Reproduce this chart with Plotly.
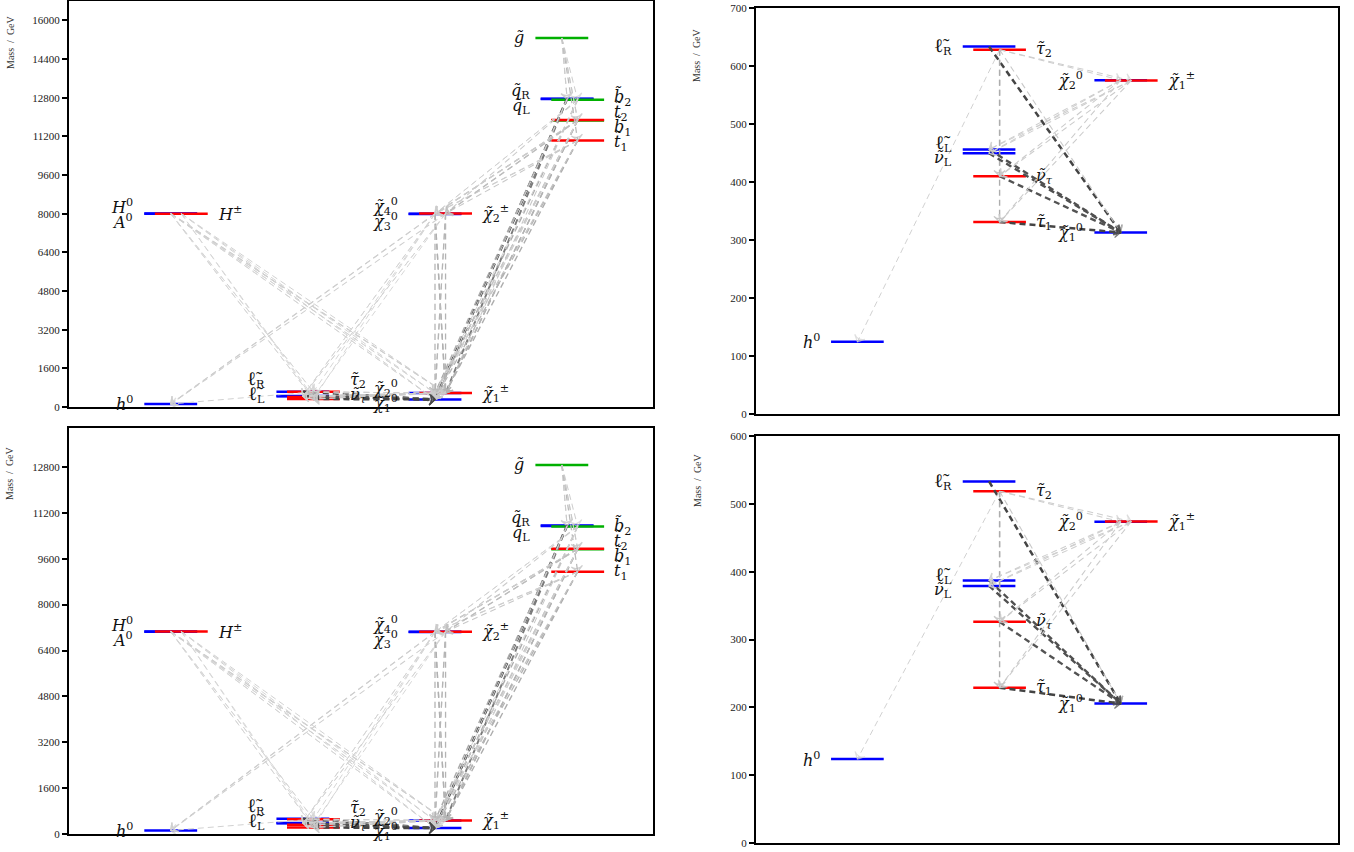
import plotly.graph_objects as go

W, H = 1354, 852

# ---------------- data ----------------
KEYS = ["h0", "H0", "A0", "Hpm", "lR", "lL", "snuL", "tau2", "snutau", "tau1",
        "N1", "N2", "N3", "N4", "C1", "C2", "gl", "qR", "qL", "b1", "b2", "t1", "t2"]
MASS_TOP = [124.4, 8005, 7995, 8000, 633.5, 456, 449.5, 628, 410, 331,
            313, 575.5, 7990, 8000, 575, 8002, 15270, 12760, 12740, 11860, 12715, 11024, 11876]
MASS_BOTTOM = [123.7, 7065, 7055, 7060, 533, 387, 379, 518.6, 326, 229,
               205.5, 473.5, 7045, 7052, 474, 7055, 12870, 10762, 10745, 9935, 10727, 9148, 9948]
LIGHT_KEYS = ["h0", "lR", "lL", "snuL", "tau2", "snutau", "tau1", "N1", "N2", "C1"]

# (parent, daughter, branching ratio)
DECAYS = [
    ("gl", "qR", 0.10), ("gl", "qL", 0.10), ("gl", "b1", 0.08), ("gl", "b2", 0.08),
    ("gl", "t1", 0.22), ("gl", "t2", 0.12),
    ("qR", "N1", 0.98),
    ("qL", "C1", 0.64), ("qL", "N2", 0.32), ("qL", "N1", 0.02),
    ("b1", "C1", 0.35), ("b1", "N2", 0.18), ("b1", "N1", 0.10), ("b1", "N3", 0.08),
    ("b1", "N4", 0.08), ("b1", "C2", 0.15),
    ("b2", "N1", 0.30), ("b2", "C1", 0.12), ("b2", "N2", 0.06), ("b2", "N3", 0.05),
    ("b2", "N4", 0.05), ("b2", "C2", 0.10),
    ("t1", "N1", 0.25), ("t1", "C1", 0.30), ("t1", "N2", 0.15), ("t1", "N3", 0.08),
    ("t1", "N4", 0.08), ("t1", "C2", 0.12),
    ("t2", "C1", 0.25), ("t2", "N2", 0.12), ("t2", "N1", 0.06), ("t2", "N3", 0.10),
    ("t2", "N4", 0.10), ("t2", "C2", 0.20),
    ("H0", "tau1", 0.03), ("H0", "tau2", 0.03), ("H0", "N1", 0.04), ("H0", "N2", 0.04), ("H0", "C1", 0.08),
    ("A0", "tau1", 0.03), ("A0", "tau2", 0.03), ("A0", "N1", 0.04), ("A0", "N2", 0.04), ("A0", "C1", 0.08),
    ("Hpm", "snutau", 0.03), ("Hpm", "tau1", 0.03), ("Hpm", "C1", 0.06), ("Hpm", "N1", 0.06),
    ("Hpm", "N2", 0.04),
    ("N3", "h0", 0.08), ("N3", "N1", 0.10), ("N3", "N2", 0.10), ("N3", "C1", 0.28),
    ("N3", "lL", 0.04), ("N3", "tau2", 0.04),
    ("N4", "h0", 0.08), ("N4", "N1", 0.10), ("N4", "N2", 0.10), ("N4", "C1", 0.28),
    ("N4", "snuL", 0.04), ("N4", "tau1", 0.04),
    ("C2", "h0", 0.08), ("C2", "C1", 0.25), ("C2", "N1", 0.10), ("C2", "N2", 0.25),
    ("C2", "snuL", 0.04), ("C2", "lL", 0.04), ("C2", "snutau", 0.04),
    ("lR", "N1", 1.0),
    ("tau2", "N1", 0.12), ("tau2", "N2", 0.08), ("tau2", "C1", 0.08),
    ("tau2", "snutau", 0.25), ("tau2", "tau1", 0.30), ("tau2", "h0", 0.06),
    ("lL", "N1", 0.92), ("snuL", "N1", 0.92),
    ("snutau", "N1", 0.90),
    ("tau1", "N1", 1.0),
    ("N2", "lL", 0.08), ("N2", "snuL", 0.08), ("N2", "snutau", 0.10), ("N2", "tau1", 0.10),
    ("C1", "snuL", 0.08), ("C1", "lL", 0.08), ("C1", "snutau", 0.10), ("C1", "tau1", 0.10),
]

Y_TICKS_TL = list(range(0, 16001, 1600))
Y_TICKS_BL = list(range(0, 12801, 1600))
Y_TICKS_TR = list(range(0, 701, 100))
Y_TICKS_BR = list(range(0, 601, 100))

# ---------------- style ----------------
BLUE, RED, GREEN = "#0000ff", "#ff0000", "#00b000"
ELL = "<span style=\"font-family:'Liberation Serif';font-size:19px\">ℓ̃</span>"
STYLE = {
    "h0": (1, "L", BLUE, "<i>h</i><sup>0</sup>"),
    "H0": (1, "L", BLUE, "<i>H</i><sup>0</sup>"),
    "A0": (1, "L", BLUE, "<i>A</i><sup>0</sup>"),
    "Hpm": (1, "R", RED, "<i>H</i><sup>±</sup>"),
    "lR": (2, "L", BLUE, ELL + "<sub>R</sub>"),
    "lL": (2, "L", BLUE, ELL + "<sub>L</sub>"),
    "snuL": (2, "L", BLUE, "<i>ν̃</i><sub>L</sub>"),
    "tau2": (2, "R", RED, "<i>τ̃</i><sub>2</sub>"),
    "snutau": (2, "R", RED, "<i>ν̃</i><sub><i>τ</i></sub>"),
    "tau1": (2, "R", RED, "<i>τ̃</i><sub>1</sub>"),
    "N1": (3, "L", BLUE, "<i>χ̃</i><sub>1</sub><sup>0</sup>"),
    "N2": (3, "L", BLUE, "<i>χ̃</i><sub>2</sub><sup>0</sup>"),
    "N3": (3, "L", BLUE, "<i>χ̃</i><sub>3</sub><sup>0</sup>"),
    "N4": (3, "L", BLUE, "<i>χ̃</i><sub>4</sub><sup>0</sup>"),
    "C1": (3, "R", RED, "<i>χ̃</i><sub>1</sub><sup>±</sup>"),
    "C2": (3, "R", RED, "<i>χ̃</i><sub>2</sub><sup>±</sup>"),
    "gl": (4, "G", GREEN, "<i>g̃</i>"),
    "qR": (4, "L", BLUE, "<i>q̃</i><sub>R</sub>"),
    "qL": (4, "L", BLUE, "<i>q̃</i><sub>L</sub>"),
    "b1": (4, "R", GREEN, "<i>b̃</i><sub>1</sub>"),
    "b2": (4, "R", GREEN, "<i>b̃</i><sub>2</sub>"),
    "t1": (4, "R", RED, "<i>t̃</i><sub>1</sub>"),
    "t2": (4, "R", RED, "<i>t̃</i><sub>2</sub>"),
}
SPAN = {"L": (-0.24, 0.16), "R": (-0.16, 0.24), "G": (-0.28, 0.12)}
COLOR_ORDER = {BLUE: 0, GREEN: 1, RED: 2}
XRANGE = [0.19, 4.61]
LABEL_FONT = dict(family="DejaVu Serif, serif", size=16, color="#111")
TICK_FONT = dict(family="Liberation Serif, DejaVu Serif, serif", size=11, color="#222")
LABEL_SEP = 15

PANELS = [
    dict(ax="", keys=KEYS, mass=MASS_TOP, yr=[0, 16800], ticks=Y_TICKS_TL,
         xpx=(69, 653), ypx=(1, 407), title_y=42),
    dict(ax="2", keys=LIGHT_KEYS, mass=MASS_TOP, yr=[0, 700], ticks=Y_TICKS_TR,
         xpx=(756, 1338), ypx=(8, 414), title_y=55),
    dict(ax="3", keys=KEYS, mass=MASS_BOTTOM, yr=[0, 14160], ticks=Y_TICKS_BL,
         xpx=(69, 653), ypx=(428, 834), title_y=473),
    dict(ax="4", keys=LIGHT_KEYS, mass=MASS_BOTTOM, yr=[0, 600], ticks=Y_TICKS_BR,
         xpx=(756, 1338), ypx=(436, 843), title_y=480),
]


def spread(vals, sep):
    groups = [[v] for v in vals]

    def lay(g):
        c = sum(g) / len(g)
        n = len(g)
        return [c + sep * ((n - 1) / 2 - i) for i in range(n)]

    merged = True
    while merged:
        merged = False
        for i in range(len(groups) - 1):
            a, b = lay(groups[i]), lay(groups[i + 1])
            if a[-1] - b[0] < sep:
                groups[i] = groups[i] + groups[i + 1]
                del groups[i + 1]
                merged = True
                break
    out = []
    for g in groups:
        out += lay(g)
    return out


def grey(br):
    v = int(round(218 - 150 * min(br, 1.0)))
    return f"rgb({v},{v},{v})"


fig = go.Figure()
annotations = []

for p in PANELS:
    xa, ya = "x" + p["ax"], "y" + p["ax"]
    mass = dict(zip(KEYS, p["mass"]))
    keys = p["keys"]

    def mid(k):
        col, side, _, _ = STYLE[k]
        a, b = SPAN[side]
        return col + (a + b) / 2

    # level lines
    for k in sorted(keys, key=lambda k: COLOR_ORDER[STYLE[k][2]]):
        col, side, color, _ = STYLE[k]
        a, b = SPAN[side]
        fig.add_trace(go.Scatter(x=[col + a, col + b], y=[mass[k], mass[k]], mode="lines",
                                 line=dict(color=color, width=2.5), xaxis=xa, yaxis=ya,
                                 hoverinfo="skip", showlegend=False))

    # decay arrows
    for par, dau, br in DECAYS:
        if par not in keys or dau not in keys:
            continue
        c = grey(br)
        fig.add_trace(go.Scatter(
            x=[mid(par), mid(dau)], y=[mass[par], mass[dau]], mode="lines+markers",
            line=dict(color=c, width=0.9 + 1.6 * br, dash="6px,4px"),
            marker=dict(symbol="arrow-wide-open", size=[0, 8], angleref="previous",
                        color=c, line=dict(color=c, width=1.2)),
            xaxis=xa, yaxis=ya, hoverinfo="skip", showlegend=False))

    # labels, de-overlapped in pixel space
    hpx = p["ypx"][1] - p["ypx"][0]
    y0, y1 = p["yr"]
    groups = {}
    for k in keys:
        col, side, _, _ = STYLE[k]
        lside = "R" if side == "R" else "L"
        groups.setdefault((col, lside), []).append(k)
    for (col, lside), ks in groups.items():
        ks = sorted(ks, key=lambda k: -mass[k])
        px = [(mass[k] - y0) / (y1 - y0) * hpx for k in ks]
        pos = spread(px, LABEL_SEP)
        for k, pp in zip(ks, pos):
            _, side, _, label = STYLE[k]
            a, b = SPAN[side]
            yv = y0 + pp / hpx * (y1 - y0)
            if lside == "L":
                annotations.append(dict(x=col + a, y=yv, xref=xa, yref=ya, text=label,
                                        showarrow=False, xanchor="right", yanchor="middle",
                                        xshift=-9, font=LABEL_FONT))
            else:
                annotations.append(dict(x=col + b, y=yv, xref=xa, yref=ya, text=label,
                                        showarrow=False, xanchor="left", yanchor="middle",
                                        xshift=8, font=LABEL_FONT))

    # y-axis title near the top of the axis
    annotations.append(dict(x=(p["xpx"][0] - 59) / W, y=1 - p["title_y"] / H, xref="paper",
                            yref="paper", text="Mass  /  GeV", textangle=-90, showarrow=False,
                            xanchor="center", yanchor="middle",
                            font=dict(family="Liberation Serif, serif", size=10, color="#333")))

    xd = [p["xpx"][0] / W, p["xpx"][1] / W]
    yd = [1 - p["ypx"][1] / H, 1 - p["ypx"][0] / H]
    fig.layout["xaxis" + p["ax"]] = dict(domain=xd, range=XRANGE, showgrid=False, zeroline=False,
                                         showticklabels=False, ticks="", showline=True,
                                         mirror=True, linecolor="black", linewidth=2,
                                         anchor=ya)
    fig.layout["yaxis" + p["ax"]] = dict(domain=yd, range=p["yr"], showgrid=False, zeroline=False,
                                         tickvals=p["ticks"], ticktext=[str(t) for t in p["ticks"]],
                                         ticks="outside", ticklen=5,
                                         tickwidth=1.5, tickcolor="black", tickfont=TICK_FONT,
                                         showline=True, mirror=True, linecolor="black",
                                         linewidth=2, anchor=xa)

fig.update_layout(width=W, height=H, margin=dict(l=0, r=0, t=0, b=0, autoexpand=False),
                  paper_bgcolor="white", plot_bgcolor="white", annotations=annotations,
                  showlegend=False)
fig.write_html("out.html", config={"displayModeBar": False},
               post_script="document.body.style.margin='0';document.body.style.overflow='hidden';")
